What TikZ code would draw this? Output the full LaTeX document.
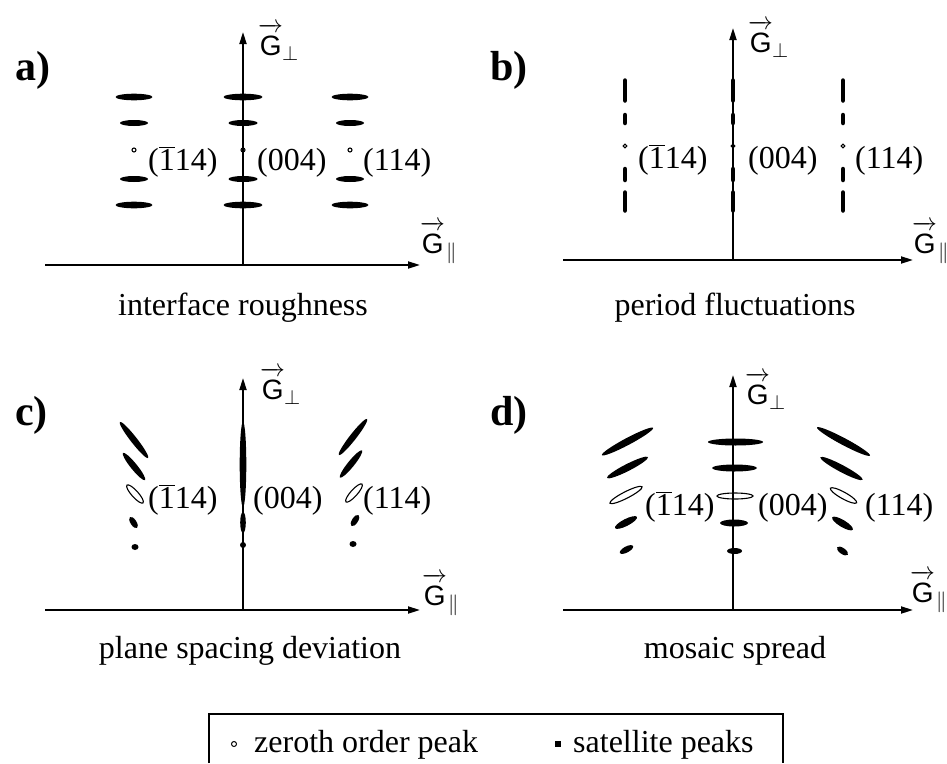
\documentclass[tikz,border=0pt]{standalone}
\usepackage{fontspec}
\setmainfont{Liberation Serif}
\setsansfont{Liberation Sans}
\usetikzlibrary{arrows.meta}
\newcommand\pkspot[5]{\fill[rotate around={#3:(#1,#2)}] (#1,#2) ellipse [x radius=#4pt, y radius=#5pt];}
\newcommand\pkzero[5]{\draw[line width=1.1pt,rotate around={#3:(#1,#2)}] (#1,#2) ellipse [x radius=#4pt, y radius=#5pt];}
\newcommand\pkdash[3]{\draw[line width=4.5pt,line cap=round] (#1,#2) -- (#1,#3);}
\newcommand\pkbar{$\overline{\mbox{1}}$}
\newcommand\gperp{$\overrightarrow{\mathsf{G}\rule{0pt}{24pt}}$\kern-1pt\raisebox{-5pt}{\fontsize{22}{24}\selectfont$\perp$}}
\newcommand\gpar{$\overrightarrow{\mathsf{G}\rule{0pt}{24pt}}$\kern1pt\raisebox{-5pt}{\fontsize{20}{24}\selectfont$\parallel$}}
\begin{document}
\begin{tikzpicture}[x=1pt,y=-1pt,
  axis/.style={line width=1.8pt,-{Triangle[length=12pt,width=7pt]}},
  lbl/.style={font=\fontsize{32}{36}\selectfont,inner sep=0pt,anchor=base west},
  glbl/.style={font=\fontsize{28}{32}\selectfont,inner sep=0pt,anchor=base west},
  captxt/.style={font=\fontsize{32}{38}\selectfont,inner sep=0pt,anchor=base},
  plab/.style={font=\fontsize{42}{46}\selectfont\bfseries,inner sep=0pt,anchor=base west}]
\useasboundingbox (0,0) rectangle (947,763);

% ---------------- panel a ----------------
\coordinate (aL) at (45,265); \coordinate (aR) at (420,265);
\coordinate (aO) at (243,265); \coordinate (aT) at (243,32);
\draw[axis] (aL) -- (aR);
\draw[axis] (aO) -- (aT);
\node[plab] (pa) at (15,80) {a)};
\node[glbl] (gpa) at (258,55) {\gperp};
\node[glbl] (gla) at (420,253) {\gpar};
\foreach \cx/\o/\i in {134/18.5/14, 243/19.5/14.5, 350/18.5/14}{
  \pkspot{\cx}{97}{0}{\o}{3.3}
  \pkspot{\cx}{123}{0}{\i}{3}
  \pkspot{\cx}{179}{0}{\i}{3}
  \pkspot{\cx}{205}{0}{\o}{3.3}
  \pkzero{\cx}{150}{0}{2}{2}
}
\node[lbl] (a1) at (148,170) {(\pkbar14)};
\node[lbl] (a2) at (257,170) {(004)};
\node[lbl] (a3) at (363,170) {(114)};
\node[captxt] (ca) at (243,315) {interface roughness};

% ---------------- panel b ----------------
\coordinate (bL) at (563,260); \coordinate (bR) at (913,260);
\coordinate (bO) at (733,260); \coordinate (bT) at (733,28);
\draw[axis] (bL) -- (bR);
\draw[axis] (bO) -- (bT);
\node[plab] (pb) at (490,80) {b)};
\node[glbl] (gpb) at (748,52) {\gperp};
\node[glbl] (glb) at (912,253) {\gpar};
\foreach \cx in {625,733,843}{
  \pkdash{\cx}{80.5}{100.5}
  \pkdash{\cx}{115}{123}
  \pkdash{\cx}{169}{180}
  \pkdash{\cx}{192.5}{210.5}
  \pkzero{\cx}{146}{0}{1.8}{1.8}
}
\node[lbl] (b1) at (638,168) {(\pkbar14)};
\node[lbl] (b2) at (748,168) {(004)};
\node[lbl] (b3) at (855,168) {(114)};
\node[captxt] (cb) at (735,315) {period fluctuations};

% ---------------- panel c ----------------
\coordinate (cL) at (45,610); \coordinate (cR) at (420,610);
\coordinate (cO) at (243,610); \coordinate (cT) at (243,378);
\draw[axis] (cL) -- (cR);
\draw[axis] (cO) -- (cT);
\node[plab] (pc) at (15,425) {c)};
\node[glbl] (gpc) at (260,399) {\gperp};
\node[glbl] (glc) at (422,605) {\gpar};
\pkspot{134}{440}{-52}{23}{3.2}
\pkspot{134}{466.5}{-51}{17.5}{3.2}
\pkzero{135}{494}{-48}{12}{3.3}
\pkspot{133.5}{522.5}{-57}{6.5}{3}
\pkspot{135}{547}{0}{3.5}{3}
\pkspot{353}{437}{52}{23}{3.2}
\pkspot{351}{464}{51}{17.5}{3.2}
\pkzero{354}{493}{48}{12}{3.3}
\pkspot{355}{520.5}{57}{6.5}{3}
\pkspot{353}{544}{0}{3.5}{3}
\pkspot{243}{464.5}{90}{42.5}{3.3}
\pkspot{243}{522.5}{90}{10.5}{2.8}
\pkspot{243}{545}{0}{3}{3}
\node[lbl] (c1) at (148,508) {(\pkbar14)};
\node[lbl] (c2) at (253,508) {(004)};
\node[lbl] (c3) at (363,508) {(114)};
\node[captxt] (cc) at (250,658) {plane spacing deviation};

% ---------------- panel d ----------------
\coordinate (dL) at (563,610); \coordinate (dR) at (913,610);
\coordinate (dO) at (733,610); \coordinate (dT) at (733,375);
\draw[axis] (dL) -- (dR);
\draw[axis] (dO) -- (dT);
\node[plab] (pd) at (490,425) {d)};
\node[glbl] (gpd) at (745,404) {\gperp};
\node[glbl] (gld) at (910,602) {\gpar};
\pkspot{627.5}{441.5}{28}{29}{3.5}
\pkspot{627.5}{467.5}{27}{23}{3.5}
\pkzero{626}{495}{27}{18}{3.3}
\pkspot{626}{522.5}{27}{12.3}{3.5}
\pkspot{626.5}{549.5}{28}{7.4}{3}
\pkspot{843.5}{441.5}{-28}{30}{3.5}
\pkspot{841.5}{468.5}{-28}{24}{3.5}
\pkzero{843.5}{495.5}{-29}{15}{3.3}
\pkspot{842.5}{523.5}{-31}{12}{3.5}
\pkspot{842.5}{551}{-35}{6.5}{3}
\pkspot{735.5}{442}{0}{27.5}{3.5}
\pkspot{734.5}{468}{0}{22.5}{3.5}
\pkzero{735}{496}{0}{18}{3}
\pkspot{734}{523}{0}{14}{3.5}
\pkspot{734.5}{551}{0}{7.5}{3}
\node[lbl] (d1) at (645,515) {(\pkbar14)};
\node[lbl] (d2) at (758,515) {(004)};
\node[lbl] (d3) at (865,515) {(114)};
\node[captxt] (cd) at (735,658) {mosaic spread};

% ---------------- legend ----------------
\coordinate (lgA) at (209,763); \coordinate (lgB) at (209,714);
\coordinate (lgC) at (783,714); \coordinate (lgD) at (783,763);
\draw[line width=1.5pt] (lgA) -- (lgB) -- (lgC) -- (lgD);
\draw[line width=1pt] (234,744) circle [radius=2.5pt];
\node[lbl] (lz) at (254,752) {zeroth order peak};
\fill (555,741) rectangle (561,747);
\node[lbl] (ls) at (573,752) {satellite peaks};
\end{tikzpicture}
\end{document}
